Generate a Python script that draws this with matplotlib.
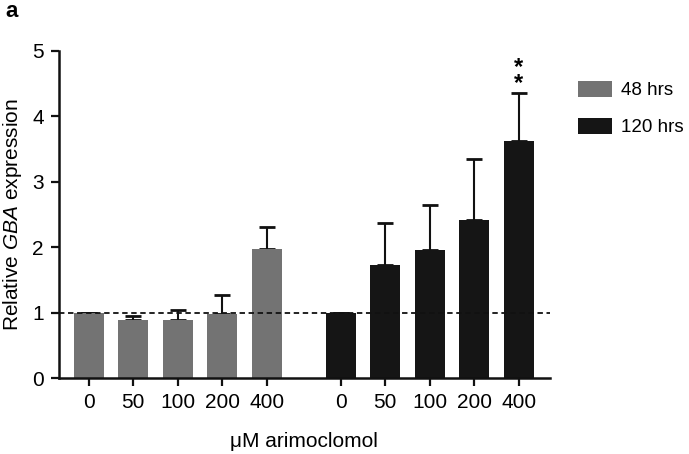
import numpy as np
import matplotlib.pyplot as plt

plt.rcParams["font.family"] = ["Liberation Sans", "DejaVu Sans"]
plt.rcParams["mathtext.fontset"] = "custom"
plt.rcParams["mathtext.it"] = "Liberation Sans:italic"
plt.rcParams["mathtext.rm"] = "Liberation Sans"

doses = ["0", "50", "100", "200", "400"]
mean_48 = [1.00, 0.88, 0.89, 0.98, 1.98]
err_48 = [0.0, 0.065, 0.15, 0.29, 0.33]
mean_120 = [0.99, 1.73, 1.95, 2.42, 3.63]
err_120 = [0.0, 0.64, 0.70, 0.93, 0.73]

gray, black = "#737373", "#151515"

fig = plt.figure(figsize=(6.89, 4.54), dpi=100)
ax = fig.add_axes([0.0856, 0.1674, 0.7124, 0.7203])

x48 = np.arange(len(doses))
x120 = x48 + 5.66
w = 0.67

ax.bar(x48, mean_48, w, color=gray, label="48 hrs", zorder=2)
ax.bar(x120, mean_120, w, color=black, label="120 hrs", zorder=2)
for xs, m, e in [(x48, mean_48, err_48), (x120, mean_120, err_120)]:
    ax.errorbar(xs, m, yerr=[np.zeros(len(e)), e], fmt="none", ecolor="#111111",
                elinewidth=1.5, capsize=5.5, capthick=2, zorder=1)

ax.axhline(1, color="#111111", ls=(0, (3, 2)), lw=1.3, zorder=3)

# significance marker above 120 hrs / 400
ax.text(x120[-1], 4.32, "*\n*", ha="center", va="bottom", fontsize=17,
        fontweight="bold", linespacing=0.62)

ax.set_xlim(-0.67, x120[-1] + 0.7)
ax.set_ylim(0, 5)
ax.set_xticks(np.concatenate([x48, x120]))
ax.set_xticklabels(doses + doses)
ax.set_yticks(range(6))
ax.tick_params(labelsize=15, width=1.6, length=6, color="#111111", pad=5)

for s in ["top", "right"]:
    ax.spines[s].set_visible(False)
for s in ["left", "bottom"]:
    ax.spines[s].set_linewidth(1.8)
    ax.spines[s].set_color("#111111")

ax.set_ylabel("Relative $\\mathit{GBA}$ expression", fontsize=15, labelpad=6)
ax.set_xlabel("μM arimoclomol", fontsize=15, labelpad=14)

ax.legend(loc="upper left", bbox_to_anchor=(1.024, 0.96), frameon=False, fontsize=13.5,
          handlelength=1.8, handleheight=0.9, handletextpad=0.45, labelspacing=1.0)

fig.text(0.008, 0.975, "a", fontsize=16, fontweight="bold", va="center")

plt.savefig("out.png", dpi=100)
